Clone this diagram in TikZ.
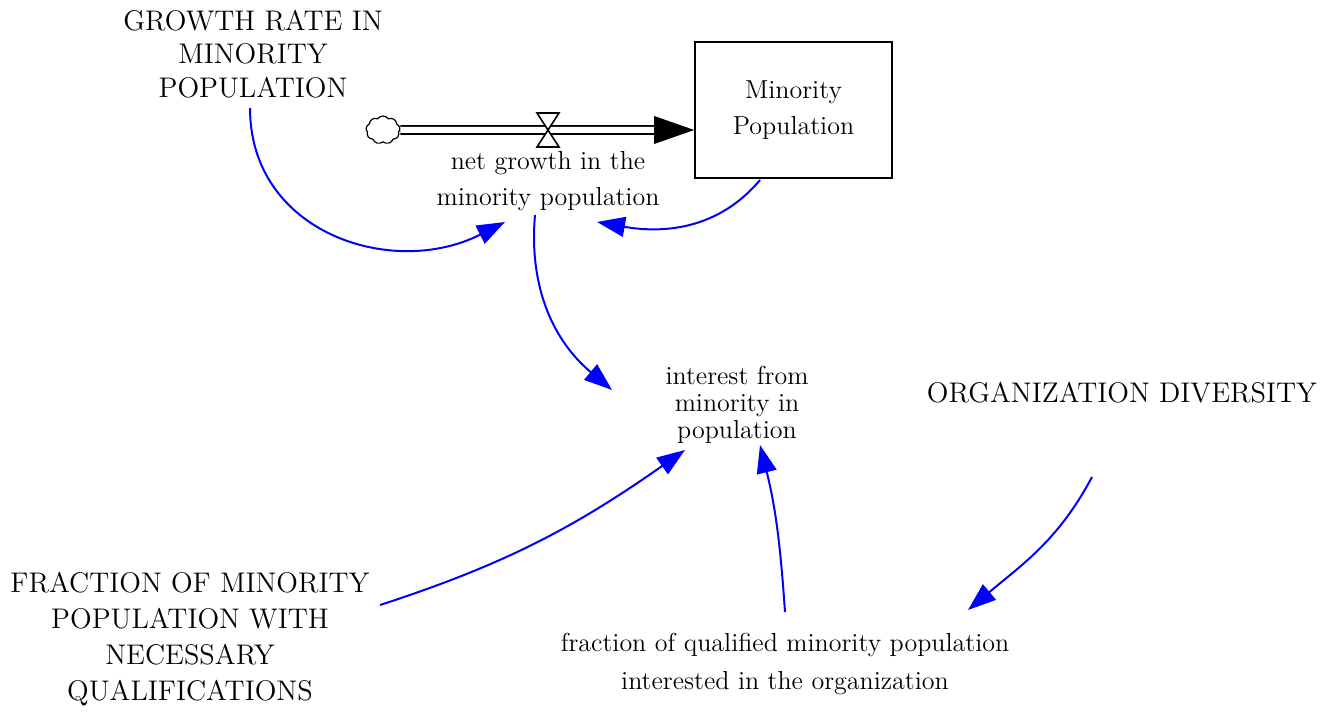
\documentclass[tikz,border=0pt]{standalone}
\usetikzlibrary{arrows.meta,shapes.symbols}

\begin{document}
\begin{tikzpicture}[x=0.5pt, y=0.5pt,
    var/.style={align=center, inner sep=2pt, font=\fontsize{13}{18}\selectfont},
    const/.style={align=center, inner sep=2pt, font=\fontsize{14.2}{18}\selectfont},
    link/.style={blue, line width=1pt, -{Triangle[length=14pt,width=10pt]}},
    pipe/.style={double, double distance=3pt, line width=0.9pt}]
  \useasboundingbox (0,0) rectangle (1320,711);
  % stock
  \node[var, draw, line width=0.8pt, minimum width=98.5pt, minimum height=68pt] (stock) at (793.5,601) {Minority\\Population};
  % flow
  \node[cloud, cloud puffs=9, cloud puff arc=110, draw, line width=0.6pt, minimum width=17pt, minimum height=14pt, inner sep=0pt] (src) at (383,581) {};
  \coordinate (tip) at ([yshift=-10pt]stock.west);
  \coordinate (valve) at (548,581);
  \draw[pipe] (src.east) -- ([xshift=-19pt]tip);
  \fill (tip) -- ++(-20pt,7pt) -- ++(0,-14pt) -- cycle;
  \filldraw[fill=white, line width=0.8pt] ([shift={(-11,17)}]valve) -- ++(22,0) -- ++(-22,-34) -- ++(22,0) -- cycle;
  \node[var] (net) at (548,530) {net growth in the\\minority population};
  % variables
  \node[const, font=\fontsize{14.2}{16.75}\selectfont] (grw) at (253,657) {GROWTH RATE IN\\MINORITY\\POPULATION};
  \node[var, font=\fontsize{13}{13.5}\selectfont] (intr) at (737,306) {interest from\\minority in\\population};
  \node[const] (org) at (1122,318) {ORGANIZATION DIVERSITY};
  \node[const] (frac) at (190,72) {FRACTION OF MINORITY\\POPULATION WITH\\NECESSARY\\QUALIFICATIONS};
  \node[var, font=\fontsize{13}{19}\selectfont] (qual) at (785,47) {fraction of qualified minority population\\interested in the organization};
  % links
  \draw[link] ([shift={(-3,-54)}]grw.center) to[out=-90, in=207, looseness=1.15] ([shift={(-43,-41)}]net.center);
  \draw[link] ([shift={(-33.5,-70)}]stock.center) to[out=-130, in=-10] ([shift={(49,-41)}]net.center);
  \draw[link] ([shift={(-13,-34)}]net.center) to[out=-95, in=140] ([shift={(-125,15)}]intr.center);
  \draw[link] ([shift={(190,34)}]frac.center) to[out=18, in=215] ([shift={(-52,-45)}]intr.center);
  \draw[link] ([shift={(0,52)}]qual.center) to[out=94, in=-76] ([shift={(23,-40)}]intr.center);
  \draw[link] ([shift={(-30,-84)}]org.center) to[out=-118, in=40] ([shift={(183,54)}]qual.center);
\end{tikzpicture}
\end{document}
